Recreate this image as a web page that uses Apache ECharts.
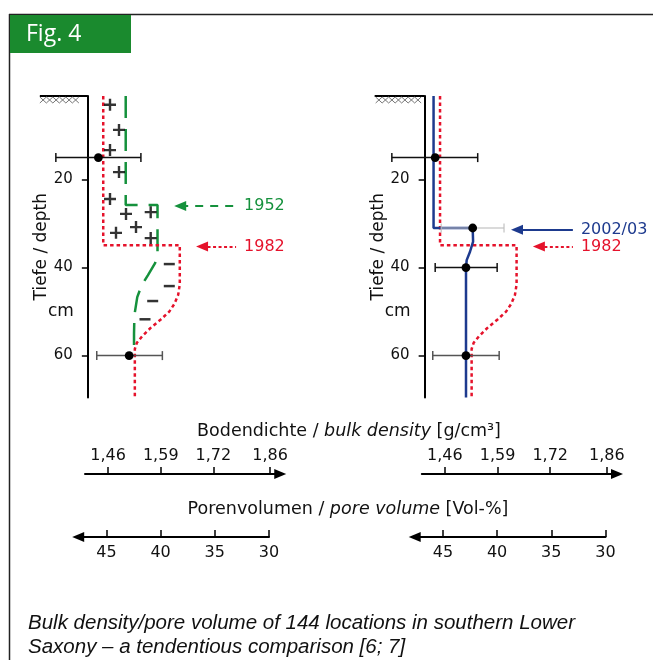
<!DOCTYPE html>
<html><head><meta charset="utf-8">
<script src="https://cdn.jsdelivr.net/npm/echarts@6/dist/echarts.min.js"></script>
<style>html,body{margin:0;padding:0;background:#fff}#c{width:653px;height:660px}</style>
</head><body><div id="c"></div>
<script>
// ---------------- data ----------------
const depthTicks = [20, 40, 60];
const densityTicks = [1.46, 1.59, 1.72, 1.86];
const densityTickLabels = ['1,46', '1,59', '1,72', '1,86'];
const poreTicks = [45, 40, 35, 30];

// [bulk density g/cm3, depth cm]
const profile1982 = [[1.448,1],[1.448,34.9],[1.637,34.9],[1.637,43.8],[1.633,46.2],[1.624,48.2],[1.611,50],[1.590,51.8],[1.565,53.7],[1.544,55.6],[1.531,57.1],[1.526,58.5],[1.526,69.5]];
const profile1952 = [[1.5035,1],[1.5035,25.8],[1.582,25.8],[1.582,37.1],[1.576,39],[1.5585,41.7],[1.543,44],[1.532,46.7],[1.525,50.8],[1.524,55],[1.524,58.7]];
const profile2002 = [[1.432,1],[1.432,31],[1.5286,31],[1.5296,34.1],[1.522,36.4],[1.5138,38.3],[1.5121,40],[1.5121,69.5]];
const plusSigns = [[1.4647,3],[1.4869,8.7],[1.4647,13.3],[1.4869,18.3],[1.4647,24.4],[1.5042,27.8],[1.5652,27.4],[1.5289,30.8],[1.4795,32.1],[1.5652,33.3]];
const minusSigns = [[1.6111,39.2],[1.6111,44.2],[1.5701,47.6],[1.5511,51.75]];
// [depth, mean, low, high]
const barsLeft = [[15,1.436,1.331,1.541],[60,1.512,1.432,1.594]];
const barsRight = [[15,1.436,1.329,1.541],[31,1.5286,1.451,1.606],[40,1.512,1.436,1.589],[60,1.512,1.430,1.594]];
// annotation arrows
const annotLeftLabels = ['1952', '1982'];
const annotRightLabels = ['2002/03', '1982'];
const annotLeftDepths = [26, 35.2];
const annotRightDepths = [31.4, 35.2];
const annotTips = [1.623, 1.677];
const annotEnd = 1.776;

// ---------------- layout ----------------
const K = 405;            // px per g/cm3
const KP = 10.84;         // px per Vol-%
const ORIG_L = 108.1, ORIG_R = 444.9;   // px of 1.46 g/cm3
const PORE_L = 106.4, PORE_R = 442.9;   // px of 45 %
const XMIN = 1.41, XMAX = 1.97;
const DMIN = 1, DMAX = 69.5, PXD = 4.4, TOP = 96;
const DAX_MIN = 1.403, DAX_MAX = 1.885;
const PAX_MAX = 47.6, PAX_MIN = 30;

const RED = '#e5122b', GREEN = '#15913c', BLUE = '#1d3a8e';
const FONT = '"DejaVu Sans", Verdana, sans-serif';

const gx = (o, v) => o + (v - 1.46) * K;
const px = (o, v) => o - (v - 45) * KP;

const grids = [
  {left: gx(ORIG_L, XMIN), top: TOP, width: (XMAX - XMIN) * K, height: (DMAX - DMIN) * PXD},
  {left: gx(ORIG_R, XMIN), top: TOP, width: (XMAX - XMIN) * K, height: (DMAX - DMIN) * PXD},
  {left: gx(ORIG_L, DAX_MIN), top: 474, width: (DAX_MAX - DAX_MIN) * K, height: 1},
  {left: gx(ORIG_R, DAX_MIN), top: 474, width: (DAX_MAX - DAX_MIN) * K, height: 1},
  {left: px(PORE_L, PAX_MAX), top: 536, width: (PAX_MAX - PAX_MIN) * KP, height: 1},
  {left: px(PORE_R, PAX_MAX), top: 536, width: (PAX_MAX - PAX_MIN) * KP, height: 1}
];

function profileX(i) {
  return {gridIndex: i, type: 'value', min: XMIN, max: XMAX, show: false};
}
function profileY(i) {
  return {
    gridIndex: i, type: 'value', inverse: true, min: DMIN, max: DMAX, position: 'left',
    name: 'Tiefe / depth', nameLocation: 'middle', nameRotate: 90, nameGap: 38,
    nameTextStyle: {fontSize: 17, fontFamily: FONT, color: '#111'},
    axisLine: {show: true, onZero: false, lineStyle: {color: '#000', width: 2}},
    axisTick: {show: true, customValues: depthTicks, length: 6, lineStyle: {color: '#000', width: 1.5}},
    axisLabel: {show: true, customValues: depthTicks, fontSize: 15, fontFamily: FONT, color: '#111', margin: 15},
    splitLine: {show: false}
  };
}
function densityAxis(i) {
  return {
    gridIndex: i, type: 'value', position: 'top', min: DAX_MIN, max: DAX_MAX,
    axisLine: {show: true, onZero: false, symbol: ['none', 'triangle'], symbolSize: [10, 12], lineStyle: {color: '#000', width: 2}},
    axisTick: {show: true, customValues: densityTicks, length: 7, lineStyle: {color: '#000', width: 1.5}},
    axisLabel: {show: true, customValues: densityTicks, fontSize: 16, fontFamily: FONT, color: '#111', margin: 10,
      formatter: v => densityTickLabels[densityTicks.findIndex(t => Math.abs(t - v) < 1e-6)] || ''},
    splitLine: {show: false}
  };
}
function poreAxis(i) {
  return {
    gridIndex: i, type: 'value', position: 'bottom', inverse: true, min: PAX_MIN, max: PAX_MAX,
    axisLine: {show: true, onZero: false, symbol: ['triangle', 'none'], symbolSize: [10, 12], lineStyle: {color: '#000', width: 2}},
    axisTick: {show: true, inside: true, customValues: poreTicks, length: 7, lineStyle: {color: '#000', width: 1.5}},
    axisLabel: {show: true, customValues: poreTicks, fontSize: 16, fontFamily: FONT, color: '#111', margin: 8},
    splitLine: {show: false}
  };
}
const hiddenY = i => ({gridIndex: i, type: 'value', show: false});

function lineSeries(grid, data, color, dash, z) {
  return {type: 'line', xAxisIndex: grid, yAxisIndex: grid, data: data, showSymbol: false, symbol: 'none',
    clip: false, z: z, silent: true,
    lineStyle: {color: color, width: 2.5, type: dash, cap: 'butt'}};
}
function barRenderer(colors) {
  return function (params, api) {
    const d = api.value(0), m = api.value(1), lo = api.value(2), hi = api.value(3);
    const pL = api.coord([lo, d]), pR = api.coord([hi, d]), pM = api.coord([m, d]);
    const c = colors[params.dataIndex];
    const st = {stroke: c, lineWidth: 1.5};
    return {type: 'group', children: [
      {type: 'line', shape: {x1: pL[0], y1: pL[1], x2: pR[0], y2: pR[1]}, style: st},
      {type: 'line', shape: {x1: pL[0], y1: pL[1] - 4.5, x2: pL[0], y2: pL[1] + 4.5}, style: st},
      {type: 'line', shape: {x1: pR[0], y1: pR[1] - 4.5, x2: pR[0], y2: pR[1] + 4.5}, style: st},
      {type: 'circle', shape: {cx: pM[0], cy: pM[1], r: 4.4}, style: {fill: '#000'}}
    ]};
  };
}
function barSeries(grid, data, colors) {
  return {type: 'custom', xAxisIndex: grid, yAxisIndex: grid, data: data, clip: false, z: 6, silent: true,
    encode: {x: [1, 2, 3], y: 0}, renderItem: barRenderer(colors)};
}
function annotSeries(grid, labels, depths, colors, dashes) {
  const s = [];
  labels.forEach((lab, i) => {
    s.push({type: 'line', xAxisIndex: grid, yAxisIndex: grid, data: [], silent: true,
      markLine: {silent: true, animation: false, symbol: ['triangle', 'none'], symbolSize: [10, 12],
        lineStyle: {color: colors[i], width: 2, type: dashes[i]},
        label: {show: true, position: 'end', distance: 8, formatter: lab, color: colors[i], fontSize: 16, fontFamily: FONT},
        emphasis: {disabled: true},
        data: [[{coord: [annotTips[i] + 0.015, depths[i]]}, {coord: [annotEnd, depths[i]]}]]}});
  });
  return s;
}
const plusPath = 'path://M4,0h2v4h4v2h-4v4h-2v-4h-4v-2h4z';
const minusPath = 'path://M0,0h10v2h-10z';

const series = [
  lineSeries(0, profile1952, GREEN, [22, 11], 2),
  lineSeries(0, profile1982, RED, [3.5, 3], 3),
  {type: 'scatter', xAxisIndex: 0, yAxisIndex: 0, data: plusSigns, symbol: plusPath, symbolSize: 12, silent: true,
    itemStyle: {color: '#000'}, z: 4},
  {type: 'scatter', xAxisIndex: 0, yAxisIndex: 0, data: minusSigns, symbol: minusPath, symbolSize: [11, 2.5], silent: true,
    itemStyle: {color: '#000'}, z: 4},
  barSeries(0, barsLeft, ['#111', '#555']),
  lineSeries(1, profile1982, RED, [3.5, 3], 3),
  lineSeries(1, profile2002, BLUE, 'solid', 4),
  barSeries(1, barsRight, ['#111', 'rgba(190,190,190,0.75)', '#111', '#555'])
].concat(
  annotSeries(0, annotLeftLabels, annotLeftDepths, [GREEN, RED], [[8, 7], [3, 2.5]]),
  annotSeries(1, annotRightLabels, annotRightDepths, [BLUE, RED], ['solid', [3, 2.5]])
);

// ---------------- decorations ----------------
function hatch(x0, x1, y) {
  const a = [], b = [];
  let k = 0;
  for (let x = x0; x <= x1 + 0.01; x += 6.5, k++) {
    a.push([x, y + (k % 2 ? 7 : 1)]);
    b.push([x, y + (k % 2 ? 1 : 7)]);
  }
  return [
    {type: 'polyline', shape: {points: a}, style: {stroke: '#777', lineWidth: 1, fill: null}},
    {type: 'polyline', shape: {points: b}, style: {stroke: '#777', lineWidth: 1, fill: null}}
  ];
}
const axL = grids[0].left, axR = grids[1].left;
const graphics = [
  {type: 'line', shape: {x1: 9, y1: 14.5, x2: 653, y2: 14.5}, style: {stroke: '#222', lineWidth: 1.5}},
  {type: 'line', shape: {x1: 9.5, y1: 14, x2: 9.5, y2: 660}, style: {stroke: '#222', lineWidth: 1.5}},
  {type: 'rect', shape: {x: 10, y: 15, width: 121, height: 38}, style: {fill: '#1a8a2e'}},
  {type: 'text', x: 26, y: 34.5, style: {text: 'Fig. 4', fill: '#fff', font: '23px "Open Sans", sans-serif', verticalAlign: 'middle'}},
  {type: 'line', shape: {x1: axL - 48, y1: TOP, x2: axL, y2: TOP}, style: {stroke: '#000', lineWidth: 2}},
  {type: 'line', shape: {x1: axR - 50, y1: TOP, x2: axR, y2: TOP}, style: {stroke: '#000', lineWidth: 2}},
  ...hatch(axL - 48, axL - 3, TOP),
  ...hatch(axR - 49, axR - 3, TOP),
  {type: 'text', x: axL - 27, y: 312, style: {text: 'cm', fill: '#111', font: '17px ' + FONT, align: 'center', verticalAlign: 'middle'}},
  {type: 'text', x: axR - 27, y: 312, style: {text: 'cm', fill: '#111', font: '17px ' + FONT, align: 'center', verticalAlign: 'middle'}},
  {type: 'text', x: 349, y: 431, style: {text: '{n|Bodendichte / }{i|bulk density}{n| [g/cm³]}', align: 'center', verticalAlign: 'middle',
    rich: {n: {fontSize: 17.5, fontFamily: FONT, fill: '#111'}, i: {fontSize: 17.5, fontFamily: FONT, fontStyle: 'italic', fill: '#111'}}}},
  {type: 'text', x: 348, y: 509, style: {text: '{n|Porenvolumen / }{i|pore volume}{n| [Vol-%]}', align: 'center', verticalAlign: 'middle',
    rich: {n: {fontSize: 17.5, fontFamily: FONT, fill: '#111'}, i: {fontSize: 17.5, fontFamily: FONT, fontStyle: 'italic', fill: '#111'}}}},
  {type: 'text', x: 28, y: 611, style: {text: 'Bulk density/pore volume of 144 locations in southern Lower\nSaxony – a tendentious comparison [6; 7]',
    font: 'italic 20.5px "Liberation Sans", Arial, sans-serif', lineHeight: 24, fill: '#111'}}
];

const chart = echarts.init(document.getElementById('c'), null, {renderer: 'canvas'});
chart.setOption({
  animation: false,
  backgroundColor: '#fff',
  grid: grids,
  xAxis: [profileX(0), profileX(1), densityAxis(2), densityAxis(3), poreAxis(4), poreAxis(5)],
  yAxis: [profileY(0), profileY(1), hiddenY(2), hiddenY(3), hiddenY(4), hiddenY(5)],
  series: series,
  graphic: graphics
});
</script>
</body></html>
